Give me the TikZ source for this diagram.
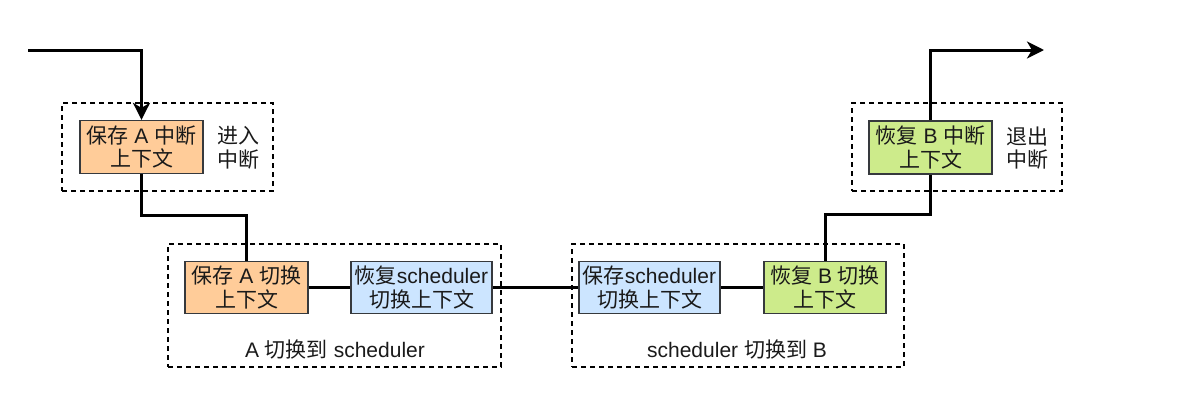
\documentclass[tikz,border=0pt]{standalone}
\usepackage{fontspec}
\setmainfont{Liberation Sans}
\newfontfamily\cjkfont{Noto Sans CJK SC}
\newcommand{\zh}[1]{{\cjkfont #1}}
\usetikzlibrary{arrows.meta}
\definecolor{orangefill}{HTML}{FFCC99}
\definecolor{bluefill}{HTML}{CCE5FF}
\definecolor{greenfill}{HTML}{CDEB8B}
\definecolor{boxline}{HTML}{36393D}
\definecolor{txt}{HTML}{1A1A1A}
\tikzset{
  box/.style={draw=boxline, line width=1.3pt, rectangle, align=center, inner sep=0pt,
    font=\fontsize{21}{23.5}\selectfont, text=txt},
  obox/.style={box, fill=orangefill},
  bbox/.style={box, fill=bluefill},
  gbox/.style={box, fill=greenfill},
  group/.style={draw=black, line width=1.5pt, dash pattern=on 5pt off 4pt, rectangle, inner sep=0pt},
  lbl/.style={align=center, inner sep=0pt, font=\fontsize{21}{23.5}\selectfont, text=txt},
  conn/.style={draw=black, line width=3pt},
  arr/.style={conn, -{Stealth[length=17pt,width=17pt,inset=5pt]}},
}
\begin{document}
\begin{tikzpicture}[x=1pt,y=-1pt]
\useasboundingbox (0,0) rectangle (1202,416);
% groups
\node[group, minimum width=211pt, minimum height=88pt] (g1) at (167.5,147) {};
\node[group, minimum width=333pt, minimum height=123pt] (g2) at (334.5,305.5) {};
\node[group, minimum width=332pt, minimum height=123pt] (g3) at (738,305.5) {};
\node[group, minimum width=210pt, minimum height=88pt] (g4) at (957,147) {};
% boxes
\node[obox, minimum width=123pt, minimum height=53pt] (b1) at (141.5,147) {\zh{保存} A \zh{中断}\\\zh{上下文}};
\node[obox, minimum width=123pt, minimum height=52pt] (b3) at (246.5,287.5) {\zh{保存} A \zh{切换}\\\zh{上下文}};
\node[bbox, minimum width=141pt, minimum height=52pt] (b4) at (421.5,287.5) {\zh{恢复}scheduler\\\zh{切换上下文}};
\node[bbox, minimum width=141pt, minimum height=52pt] (b5) at (649.5,287.5) {\zh{保存}scheduler\\\zh{切换上下文}};
\node[gbox, minimum width=122pt, minimum height=52pt] (b6) at (825,287.5) {\zh{恢复} B \zh{切换}\\\zh{上下文}};
\node[gbox, minimum width=123pt, minimum height=53pt] (b7) at (930.5,147.5) {\zh{恢复} B \zh{中断}\\\zh{上下文}};
% labels
\node[lbl] (l1) at (238,148) {\zh{进入}\\\zh{中断}};
\node[lbl] (l4) at (1027,148) {\zh{退出}\\\zh{中断}};
\node[lbl] (l2) at (335,350) {A \zh{切换到} scheduler};
\node[lbl] (l3) at (737,350) {scheduler \zh{切换到} B};
% connectors
\coordinate (start) at (28,50);
\coordinate (finish) at (1044,50);
\draw[arr] (start) -| (b1.north);
\draw[conn] (b1.south) -- ++(0,41) -| (b3.north);
\draw[conn] (b3.east) -- (b4.west);
\draw[conn] (b4.east) -- (b5.west);
\draw[conn] (b5.east) -- (b6.west);
\draw[conn] (b6.north) -- ++(0,-46.5) -| (b7.south);
\draw[arr] (b7.north) |- (finish);
\end{tikzpicture}
\end{document}
